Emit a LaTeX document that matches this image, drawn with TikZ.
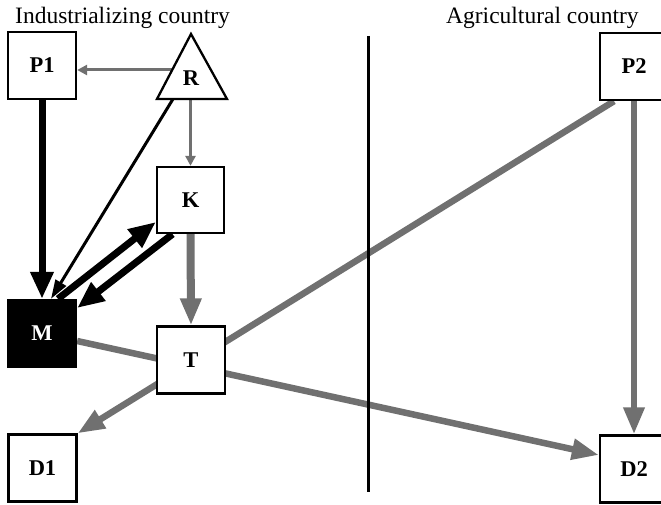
\documentclass[tikz,border=0pt]{standalone}
\usepackage{fontspec}
\setmainfont{Liberation Serif}
\usetikzlibrary{arrows.meta,backgrounds}
\definecolor{flowgray}{HTML}{707070}
\begin{document}
\begin{tikzpicture}[x=1pt,y=-1pt,
  box/.style={draw,line width=2.3pt,fill=white,minimum width=68pt,minimum height=67pt,
    inner sep=0pt,font=\fontsize{22.5}{24}\selectfont\bfseries},
  title/.style={anchor=base west,inner sep=0pt,font=\fontsize{23.5}{26}\selectfont},
  heavy/.style={draw=black,line width=7pt,-{Triangle[length=27pt,width=22pt]}},
  light/.style={draw=black,line width=3pt,-{Triangle[length=19pt,width=12pt]}},
  flow/.style={draw=flowgray,line width=6.5pt,-{Triangle[length=27pt,width=20pt]}},
  thinflow/.style={draw=flowgray,line width=3pt,-{Triangle[length=10pt,width=10pt]}}
]
\clip (0,0) rectangle (661,505);

% country headings and the border between them
\node[title] (h1) at (15,24) {Industrializing country};
\node[title] (h2) at (446,24) {Agricultural country};
\coordinate (btop) at (368,36);
\coordinate (bbot) at (368,492);
\draw[line width=3pt] (btop) -- (bbot);

% resource triangle
\coordinate (Ra) at (191,34);
\coordinate (Rr) at (227,99);
\coordinate (Rl) at (157,99);
\draw[line width=2.3pt,fill=white,line join=miter] (Ra) -- (Rr) -- (Rl) -- cycle;
\node[inner sep=0pt,font=\fontsize{22.5}{24}\selectfont\bfseries] (R) at (191,78) {R};
\coordinate (Rside) at (172,70);
\coordinate (Rbase) at (190.5,99);
\coordinate (Rbl) at (173,99);

% boxes
\node[box] (P1) at (42,65.5) {P1};
\node[box,fill=black,text=white] (M) at (42,333.5) {M};
\node[box] (D1) at (42.5,468) {D1};
\node[box,minimum width=67pt,minimum height=66pt] (K) at (190.5,200) {K};
\node[box] (T) at (191,360) {T};
\node[box] (P2) at (634,66.5) {P2};
\node[box] (D2) at (634,469) {D2};

% connectors, kept beneath the boxes
\begin{pgfonlayer}{background}
  \draw[thinflow] (Rside) -- (Rside -| P1.east);
  \draw[thinflow] (Rbase) -- (K.north);
  \draw[light] (Rbl) -- ([xshift=9pt]M.north);
  \draw[heavy] (P1.south) -- (M.north);
  \draw[heavy] ([xshift=16pt]M.north) -- ([yshift=-22pt]K.west);
  \draw[heavy] ([xshift=-18pt]K.south) -- ([yshift=25.5pt]M.east);
  \draw[flow,line width=8pt] (K.south) -- (T.north);
  \draw[flow] ([yshift=-7.5pt]M.east) -- ([yshift=14pt]D2.west);
  \draw[flow] ([xshift=-20pt]P2.south) -- (D1.north east);
  \draw[flow] (P2.south) -- (D2.north);
\end{pgfonlayer}
\end{tikzpicture}
\end{document}
